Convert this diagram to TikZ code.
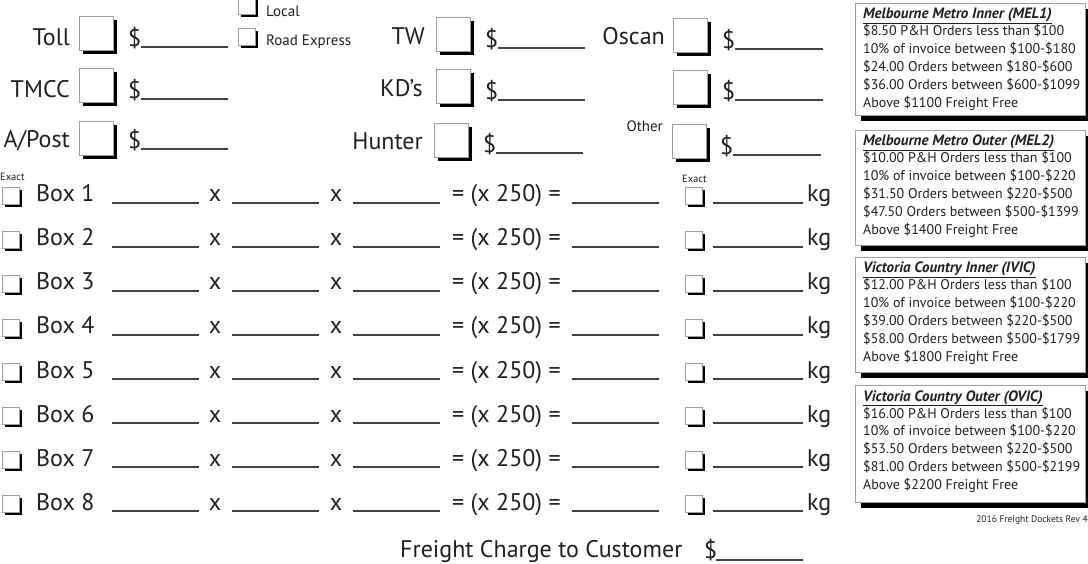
\documentclass[tikz,border=0pt]{standalone}
\usepackage{fontspec}
\setmainfont{PT Sans}
\definecolor{ink}{HTML}{231F20}
\tikzset{
  lbl/.style={font=\fontsize{24}{28}\selectfont, text=ink, inner sep=0},
  midlbl/.style={font=\fontsize{15}{18}\selectfont, text=ink, inner sep=0},
  tinylbl/.style={font=\fontsize{10.5}{12}\selectfont, text=ink, inner sep=0},
  boxframe/.style={rectangle, draw=gray!75, line width=0.8pt, fill=white, inner sep=0, anchor=north west},
  shade/.style={fill=black},
  uline/.style={draw=ink!85, line width=1.1pt},
  ratetxt/.style={font=\fontsize{14}{16}\selectfont, text=ink, inner sep=0, anchor=base west},
  ratehead/.style={font=\fontsize{15}{17}\selectfont, text=ink, inner sep=0, anchor=base west},
}
% \chkbox{name}{x}{y}{size}{shadow offset}
\newcommand\chkbox[5]{%
  \fill[shade] ({#2+#5},{#3+#5}) rectangle ++(#4,#4);
  \node[boxframe, minimum size=#4pt] (#1) at (#2,#3) {};
}
\newcommand\ratebox[9]{%
  \fill[shade] (861,{#2+6}) rectangle ++(230,#3);
  \node[boxframe, minimum width=230pt, minimum height=#3pt] (#1) at (855,#2) {};
  \node[ratehead] (#1t) at (863,{#2+16}) {\underline{\textbf{\textit{#4}}}};
  \node[ratetxt] (#1a) at (863,{#2+33}) {#5};
  \node[ratetxt] (#1b) at (863,{#2+50.8}) {#6};
  \node[ratetxt] (#1c) at (863,{#2+68.6}) {#7};
  \node[ratetxt] (#1d) at (863,{#2+86.4}) {#8};
  \node[ratetxt] (#1e) at (863,{#2+104.2}) {#9};
}
\begin{document}
\begin{tikzpicture}[x=1pt,y=-1pt]
\useasboundingbox[fill=white] (0,0) rectangle (1088,564);

% ---- carriers, column 1
\node[lbl, anchor=base east] (toll) at (70,46) {Toll};
\chkbox{tollbox}{79}{16}{34}{4}
\node[lbl, anchor=base west] (tolld) at (128,47) {\$};
\draw[uline] (141,47) -- (228,47);

\node[lbl, anchor=base east] (tmcc) at (70,98) {TMCC};
\chkbox{tmccbox}{79}{68}{34}{4}
\node[lbl, anchor=base west] (tmccd) at (128,99) {\$};
\draw[uline] (141,99) -- (228,99);

\node[lbl, anchor=base east] (apost) at (70,148) {A/Post};
\chkbox{apostbox}{79}{121}{34}{4}
\node[lbl, anchor=base west] (apostd) at (128,149) {\$};
\draw[uline] (141,149) -- (228,149);

% local / road express
\chkbox{localbox}{238}{-3}{17}{3}
\node[midlbl, anchor=base west] (local) at (266,17) {Local};
\chkbox{roadbox}{238}{28}{17}{3}
\node[midlbl, anchor=base west] (road) at (266,46) {Road Express};

% ---- column 2
\node[lbl, anchor=base east] (tw) at (425,45) {TW};
\chkbox{twbox}{436}{17}{34}{4}
\node[lbl, anchor=base west] (twd) at (485,48) {\$};
\draw[uline] (498,48) -- (585,48);

\node[lbl, anchor=base east] (kds) at (423,97) {KD’s};
\chkbox{kdsbox}{436}{69}{34}{4}
\node[lbl, anchor=base west] (kdsd) at (485,100) {\$};
\draw[uline] (498,100) -- (585,100);

\node[lbl, anchor=base east] (hunter) at (423,150) {Hunter};
\chkbox{hunterbox}{434}{123}{34}{4}
\node[lbl, anchor=base west] (hunterd) at (483,153) {\$};
\draw[uline] (496,153) -- (583,153);

% ---- column 3
\node[lbl, anchor=base east] (oscan) at (665,45) {Oscan};
\chkbox{oscanbox}{673}{18}{34}{4}
\node[lbl, anchor=base west] (oscand) at (722,49) {\$};
\draw[uline] (735,49) -- (823,49);

\chkbox{blankbox}{673}{70}{34}{4}
\node[lbl, anchor=base west] (blankd) at (722,100) {\$};
\draw[uline] (735,100) -- (823,100);

\node[midlbl, anchor=base east] (other) at (663,132) {Other};
\chkbox{otherbox}{672}{124}{34}{4}
\node[lbl, anchor=base west] (otherd) at (720,155) {\$};
\draw[uline] (733,155) -- (821,155);

% ---- box rows
\node[tinylbl, anchor=base west] (exactL) at (0,181) {Exact};
\node[tinylbl, anchor=base west] (exactR) at (682,183) {Exact};
\foreach \k in {1,...,8} {
  \pgfmathsetmacro\b{202+44*(\k-1)}
  \chkbox{cbL\k}{2}{\b-15}{17}{3}
  \node[lbl, anchor=base west] (boxlbl\k) at (36,\b) {Box \k};
  \draw[uline] (112,{\b+1}) -- (199,{\b+1});
  \node[lbl, anchor=base] (xa\k) at (215,\b) {x};
  \draw[uline] (232,{\b+1}) -- (319,{\b+1});
  \node[lbl, anchor=base] (xb\k) at (336,\b) {x};
  \draw[uline] (353,{\b+1}) -- (440,{\b+1});
  \node[lbl, anchor=base west] (mul\k) at (452,\b) {= (x 250) =};
  \draw[uline] (572,{\b+1}) -- (659,{\b+1});
  \chkbox{cbR\k}{685}{\b-15}{17}{3}
  \draw[uline] (713,{\b+1}) -- (803,{\b+1});
  \node[lbl, anchor=base west] (kg\k) at (807,\b) {kg};
}

% ---- bottom
\node[lbl, anchor=base west] (fcc) at (400,557) {Freight Charge to Customer};
\node[lbl, anchor=base west] (fccd) at (704,558) {\$};
\draw[uline] (716,560) -- (803,560);

% ---- rate panels
\ratebox{mel1}{3}{112}{Melbourne Metro Inner (MEL1)}{\$8.50 P\&H Orders less than \$100}{10\% of invoice between \$100-\$180}{\$24.00 Orders between \$180-\$600}{\$36.00 Orders between \$600-\$1099}{Above \$1100 Freight Free}
\ratebox{mel2}{130}{115}{Melbourne Metro Outer (MEL2)}{\$10.00 P\&H Orders less than \$100}{10\% of invoice between \$100-\$220}{\$31.50 Orders between \$220-\$500}{\$47.50 Orders between \$500-\$1399}{Above \$1400 Freight Free}
\ratebox{ivic}{257}{115}{Victoria Country Inner (IVIC)}{\$12.00 P\&H Orders less than \$100}{10\% of invoice between \$100-\$220}{\$39.00 Orders between \$220-\$500}{\$58.00 Orders between \$500-\$1799}{Above \$1800 Freight Free}
\ratebox{ovic}{385}{117}{Victoria Country Outer (OVIC)}{\$16.00 P\&H Orders less than \$100}{10\% of invoice between \$100-\$220}{\$53.50 Orders between \$220-\$500}{\$81.00 Orders between \$500-\$2199}{Above \$2200 Freight Free}

\node[font=\fontsize{9.5}{11}\selectfont, text=ink, inner sep=0, anchor=base east] (rev) at (1088,522) {2016 Freight Dockets Rev 4};
\end{tikzpicture}
\end{document}
